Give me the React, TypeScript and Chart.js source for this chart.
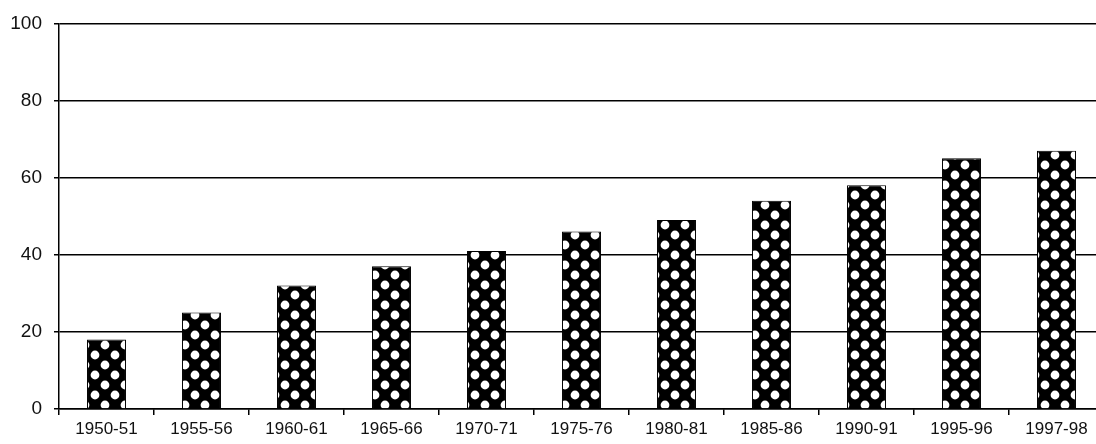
import React, { useEffect, useRef } from 'react';
import { Chart, registerables } from 'chart.js';

Chart.register(...registerables);

const categories = [
  '1950-51', '1955-56', '1960-61', '1965-66', '1970-71', '1975-76',
  '1980-81', '1985-86', '1990-91', '1995-96', '1997-98',
];
const values = [18, 25, 32, 37, 41, 46, 49, 54, 58, 65, 67];
const yMin = 0;
const yMax = 100;
const yStep = 20;

function makePattern(ctx: CanvasRenderingContext2D): CanvasPattern | string {
  const c = document.createElement('canvas');
  c.width = 20;
  c.height = 20;
  const g = c.getContext('2d');
  if (!g) return '#000';
  g.fillStyle = '#000';
  g.fillRect(0, 0, 20, 20);
  g.fillStyle = '#fff';
  g.beginPath();
  g.arc(5, 5, 4.4, 0, Math.PI * 2);
  g.fill();
  g.beginPath();
  g.arc(15, 15, 4.4, 0, Math.PI * 2);
  g.fill();
  return ctx.createPattern(c, 'repeat') || '#000';
}

const W = 1104;
const H = 444;

export default function App() {
  const ref = useRef<HTMLCanvasElement | null>(null);

  useEffect(() => {
    const canvas = ref.current;
    if (!canvas) return;
    const ctx = canvas.getContext('2d');
    if (!ctx) return;
    const pattern = makePattern(ctx);
    const family = '"Liberation Sans", Arial, sans-serif';
    const chart = new Chart(ctx, {
      type: 'bar',
      data: {
        labels: categories,
        datasets: [
          {
            data: values,
            backgroundColor: pattern as any,
            borderColor: '#000',
            borderWidth: 1,
            barPercentage: 0.41,
            categoryPercentage: 1,
          },
        ],
      },
      options: {
        animation: false,
        responsive: false,
        devicePixelRatio: 1,
        layout: { padding: { top: 22, right: 0, bottom: 0, left: 0 } },
        plugins: {
          legend: { display: false },
          tooltip: { enabled: false },
        },
        scales: {
          x: {
            offset: true,
            grid: {
              offset: true,
              drawOnChartArea: false,
              drawTicks: true,
              tickLength: 6,
              color: '#000',
              lineWidth: 1.5,
            },
            border: { color: '#000', width: 1.5 },
            ticks: { color: '#111', font: { family, size: 17 }, padding: 4, maxRotation: 0, autoSkip: false },
            afterFit: (scale: any) => {
              scale.height = 35;
            },
          },
          y: {
            min: yMin,
            max: yMax,
            grid: {
              color: '#000',
              lineWidth: 1.5,
              tickLength: 5,
              drawTicks: true,
            },
            border: { color: '#000', width: 1.5 },
            ticks: { stepSize: yStep, color: '#111', font: { family, size: 19 }, padding: 12 },
            afterFit: (scale: any) => {
              scale.width = 59;
            },
          },
        },
      },
    });
    return () => chart.destroy();
  }, []);

  return (
    <div style={{ position: 'absolute', left: 0, top: 0, width: 1096, height: 444, overflow: 'hidden', background: '#fff' }}>
      <canvas ref={ref} width={W} height={H} style={{ width: W, height: H, display: 'block' }} />
    </div>
  );
}
